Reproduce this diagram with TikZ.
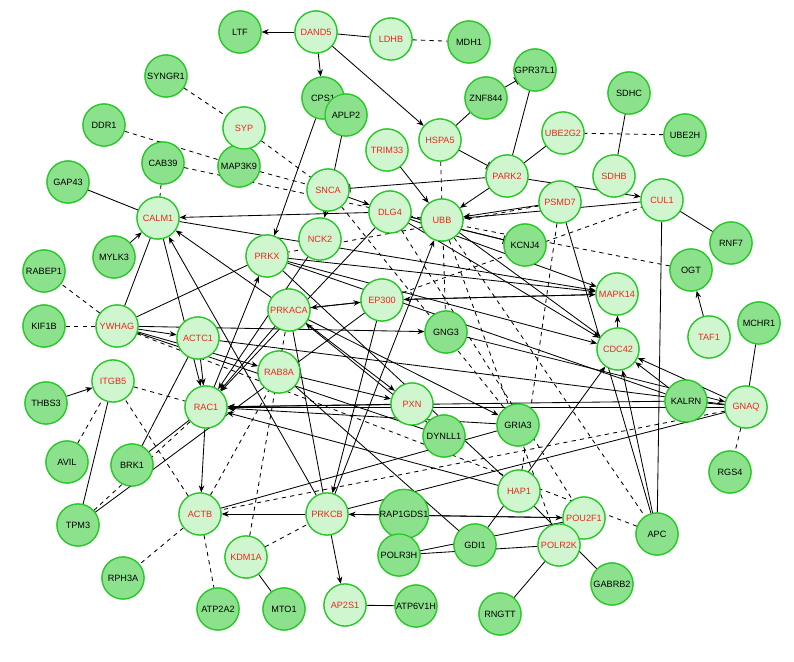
\documentclass[tikz,border=0pt]{standalone}
\usepackage{fontspec}
\setmainfont{Liberation Sans}
\usetikzlibrary{arrows.meta}
\definecolor{dkfill}{RGB}{140,226,140}
\definecolor{ltfill}{RGB}{208,246,208}
\definecolor{rim}{RGB}{40,200,40}
\definecolor{lbl}{RGB}{235,40,30}
\tikzset{
  gene/.style={circle,draw=rim,line width=0.9pt,minimum size=1.05cm,inner sep=0pt,font=\fontsize{6.5}{7}\selectfont},
  dk/.style={gene,fill=dkfill},
  lt/.style={gene,fill=ltfill,text=lbl},
  ed/.style={black,line width=0.6pt},
  arr/.style={ed,-{Stealth[length=5pt,width=4pt]}},
  dsh/.style={ed,dashed},
  inh/.style={ed,-{Bar[width=6pt]}}
}
\newcommand\dkgenes{LTF/240/32,MDH1/469/42,GPR37L1/535/70,SYNGR1/166/76,ZNF844/486/98,CPS1/323/98,APLP2/346/115,DDR1/104/125,SDHC/629/93,UBE2H/685/135,CAB39/163/163,MAP3K9/239/166,GAP43/68/182,RNF7/731/243,MYLK3/114/257,KCNJ4/525/245,RABEP1/44/271,KIF1B/44/326,GNG3/446/332,MCHR1/759/323,THBS3/46/403,KALRN/686/401,GRIA3/518/425,AVIL/67/462,BRK1/132/465,RAP1GDS1/404/514,APC/657/534,TPM3/78/525,GDI1/475/545,POLR3H/399/555,RPH3A/123/578,GABRB2/612/584,ATP2A2/218/609,MTO1/284/609,ATP6V1H/416/606,RNGTT/500/614,RGS4/730/472,OGT/691/270,DYNLL1/444/436}
\newcommand\ltgenes{DAND5/316/32,LDHB/391/39,SYP/244/128,HSPA5/440/140,TRIM33/387/150,UBE2G2/563/133,SDHB/614/176,PARK2/507/176,SNCA/328/190,DLG4/390/212,UBB/442/220,PSMD7/560/202,CUL1/662/200,CALM1/158/218,NCK2/320/239,PRKX/267/256,EP300/382/300,PRKACA/289/310,MAPK14/617/294,YWHAG/117/326,ACTC1/198/338,TAF1/709/337,CDC42/618/349,RAB8A/279/372,ITGB5/113/381,PXN/412/404,GNAQ/746/407,RAC1/206/407,ACTB/200/514,PRKCB/327/514,HAP1/519/491,POU2F1/584/518,POLR2K/559/545,KDM1A/246/557,AP2S1/345/605}
\begin{document}
\begin{tikzpicture}[x=0.025cm,y=-0.025cm]
\useasboundingbox (0,0) rectangle (794,662);
% genes (dark = neighbours, light = seeds)
\foreach \n/\x/\y in \dkgenes \node[dk] (\n) at (\x,\y) {\n};
\foreach \n/\x/\y in \ltgenes \node[lt] (\n) at (\x,\y) {\n};
% solid arrows
\foreach \a/\b in {DAND5/LTF,DAND5/CPS1,DAND5/HSPA5,TRIM33/UBB,PARK2/UBB,PARK2/CUL1,PSMD7/UBB,CUL1/UBB,MYLK3/CALM1,DLG4/CALM1,SNCA/DLG4,TAF1/OGT,GNAQ/RAC1,KALRN/RAC1,KALRN/CDC42,PRKCB/AP2S1,PRKCB/ACTB,RAC1/ACTB,THBS3/ITGB5,YWHAG/ACTC1,YWHAG/RAB8A,YWHAG/GNG3,PRKACA/CALM1,PRKACA/RAC1,PRKACA/PXN,PRKACA/EP300,EP300/MAPK14,MAPK14/EP300,CDC42/MAPK14,GNAQ/CDC42,PRKX/CDC42,DLG4/CDC42,DLG4/MAPK14,UBB/CDC42,PRKCB/CALM1,PRKCB/UBB,RAC1/PRKX,HAP1/RAC1,GRIA3/RAC1,ACTC1/RAC1,PXN/RAC1,DYNLL1/PRKACA,APC/CDC42,CPS1/PRKX,CALM1/RAC1,NCK2/RAC1,PRKACA/GRIA3,GNG3/GNAQ,EP300/PRKCB,APLP2/NCK2,PRKX/MAPK14,PRKCB/POU2F1,POU2F1/PRKCB,EP300/PRKACA,DLG4/RAC1,GDI1/CDC42,CALM1/MAPK14,RAB8A/PXN}
  \draw[arr] (\a) -- (\b);
% solid lines
\foreach \a/\b in {DAND5/LDHB,HSPA5/ZNF844,PARK2/GPR37L1,UBE2G2/PARK2,SDHC/SDHB,CUL1/RNF7,CUL1/APC,KCNJ4/DLG4,MCHR1/GNAQ,GNAQ/KALRN,POU2F1/POLR3H,POLR2K/POLR3H,POLR2K/RNGTT,HAP1/GABRB2,GDI1/RAB8A,AP2S1/ATP6V1H,KDM1A/MTO1,GAP43/CALM1,RAC1/BRK1,YWHAG/CALM1,YWHAG/PRKX,PSMD7/APC,ITGB5/TPM3,TPM3/EP300,ACTB/GRIA3,BRK1/ACTC1,PRKCB/PRKACA,GNAQ/PRKCB,KALRN/PRKX,DYNLL1/YWHAG,GNAQ/ACTC1,HAP1/PRKX}
  \draw[ed] (\a) -- (\b);
% dashed lines
\foreach \a/\b in {LDHB/MDH1,SYNGR1/SYP,SYP/SNCA,DDR1/MAP3K9,UBE2H/UBE2G2,GNAQ/RGS4,KDM1A/PRKCB,ACTB/ATP2A2,YWHAG/KIF1B,YWHAG/RABEP1,CAB39/CALM1,ACTB/RPH3A,AVIL/ITGB5,ITGB5/RAC1,ACTB/ITGB5,ACTB/RAB8A,GNAQ/ACTB,UBB/APC,DLG4/POU2F1,PSMD7/PRKX,OGT/DLG4,UBB/POLR2K,HSPA5/GNG3,SNCA/GRIA3,KDM1A/PRKACA,MAP3K9/SNCA,APC/YWHAG,EP300/CUL1,PSMD7/HAP1,CAB39/DLG4,TPM3/RAC1}
  \draw[dsh] (\a) -- (\b);
% inhibition
\foreach \a/\b in {ZNF844/GPR37L1,HSPA5/PARK2,PARK2/SNCA,DLG4/KCNJ4}
  \draw[inh] (\a) -- (\b);
% redraw genes over the edges
\foreach \n/\x/\y in \dkgenes \node[dk] at (\x,\y) {\n};
\foreach \n/\x/\y in \ltgenes \node[lt] at (\x,\y) {\n};
\end{tikzpicture}
\end{document}
